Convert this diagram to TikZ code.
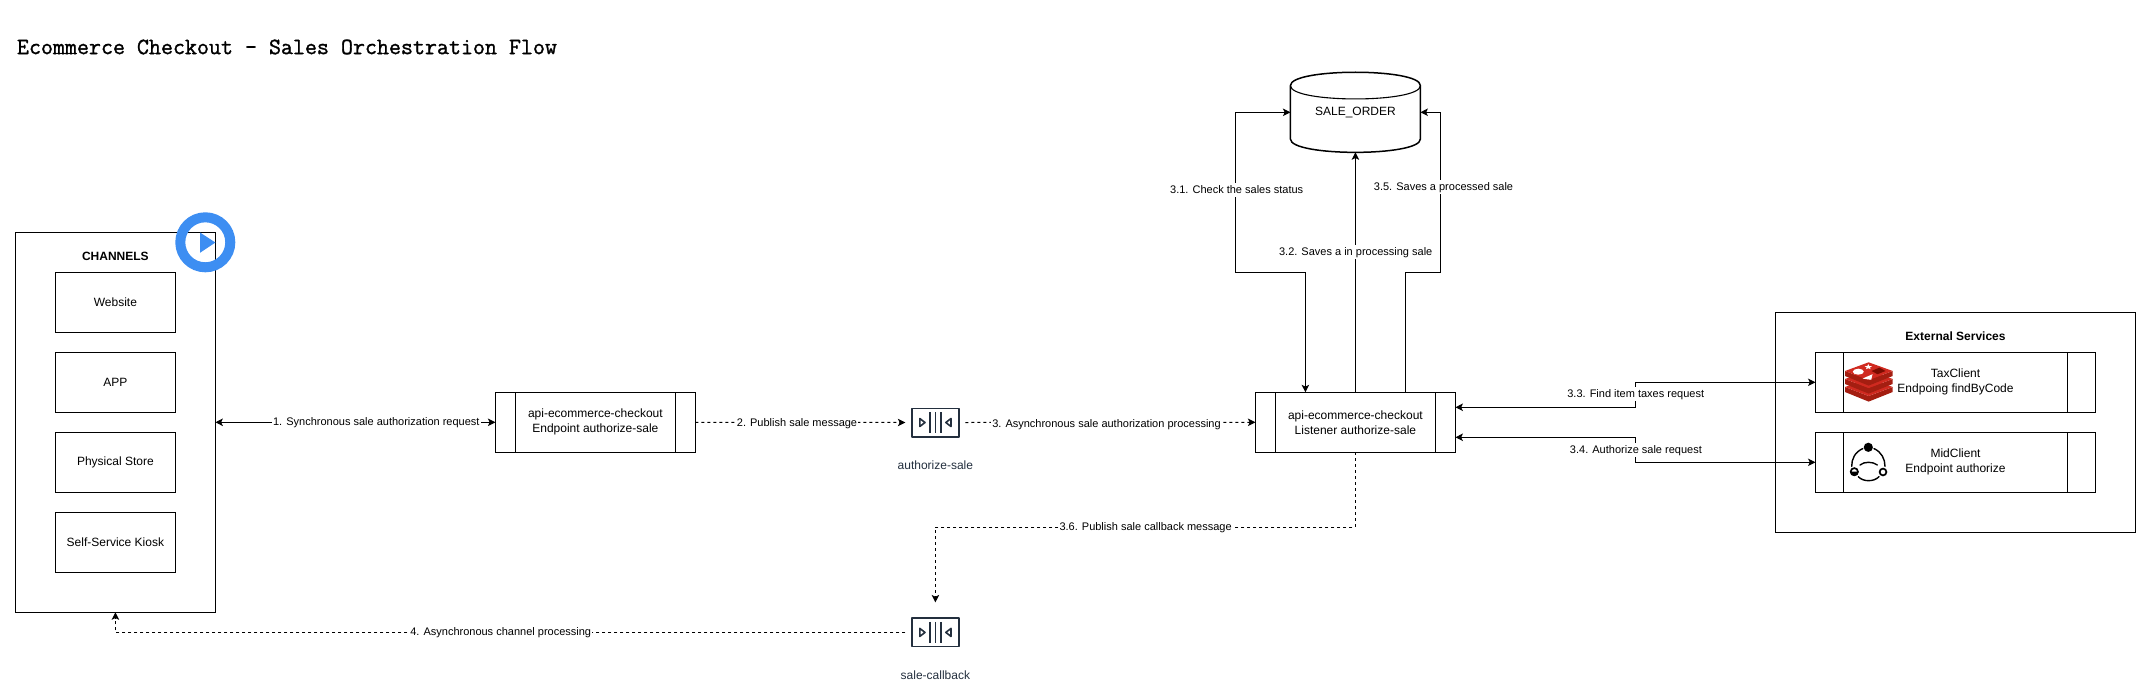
\documentclass[tikz,border=0pt]{standalone}
\usepackage{fontspec}
\setmainfont{Liberation Sans}
\newfontfamily\titlefont[FakeBold=1.3]{Latin Modern Mono}
\usetikzlibrary{arrows.meta}
\definecolor{awsdark}{HTML}{232F3E}
\definecolor{playblue}{HTML}{3D8EF2}
\definecolor{redisdark}{HTML}{A41E11}
\definecolor{redislight}{HTML}{D02A20}
\definecolor{redisshade}{HTML}{7A0C00}
\tikzset{
  every node/.style={inner sep=0pt,outer sep=0pt},
  box/.style={draw=black,line width=1pt,minimum width=#1,align=center,
    font=\fontsize{12}{15}\selectfont},
  box/.default=120pt,
  sizedbox/.style 2 args={box,minimum width=#1,minimum height=#2},
  oneline/.style={text height=10pt,text depth=1.5pt},
  heading/.style={font=\fontsize{12}{15}\selectfont\bfseries,oneline},
  plain/.style={font=\fontsize{12}{15}\selectfont,oneline},
  qlabel/.style={font=\fontsize{12}{15}\selectfont,text=awsdark,oneline},
  edgelabel/.style={font=\fontsize{11}{13}\selectfont,fill=white,inner sep=1pt,text height=9.5pt,text depth=2.5pt},
  conn/.style={line width=1pt,draw=black},
  tip/.style={-{Stealth[length=7.5pt,width=7.5pt,inset=1.8pt]}},
  bothtip/.style={{Stealth[length=7.5pt,width=7.5pt,inset=1.8pt]}-{Stealth[length=7.5pt,width=7.5pt,inset=1.8pt]}},
  async/.style={dash pattern=on 3pt off 3pt},
  queueslot/.style={minimum width=60pt,minimum height=60pt},
  queueicon/.pic={
    \draw[awsdark,line width=1.6pt,line join=round] (-23.7,-14.2) rectangle (23.7,14.2);
    \draw[awsdark,line width=1.4pt] (-5.4,-10.5) -- (-5.4,10.5) (0,-10.5) -- (0,10.5) (5.4,-10.5) -- (5.4,10.5);
    \draw[awsdark,line width=1.6pt,line join=round] (-15.6,-4) -- (-15.6,4) -- (-10.4,0) -- cycle;
    \draw[awsdark,line width=1.6pt,line join=round] (15.6,-4) -- (15.6,4) -- (10.4,0) -- cycle;
  }
}
\begin{document}
\begin{tikzpicture}[x=1pt,y=-1pt]
\useasboundingbox (0,0) rectangle (2151,698);

% title
\node[anchor=west,font=\fontsize{23.3}{24}\titlefont] (title) at (17,47)
  {Ecommerce Checkout - Sales Orchestration Flow};

% channels
\node[sizedbox={200pt}{380pt}] (channels) at (115.4,422.3) {};
\node[heading] (channelstitle) at (115.4,256.7) {CHANNELS};
\node[sizedbox={120pt}{60pt}] (website) at (115.4,302.3) {Website};
\node[sizedbox={120pt}{60pt}] (app) at (115.4,382.3) {APP};
\node[sizedbox={120pt}{60pt}] (store) at (115.4,462.3) {Physical Store};
\node[sizedbox={120pt}{60pt}] (kiosk) at (115.4,542.3) {Self-Service Kiosk};

% play badge
\coordinate (playc) at (205.3,242.3);
\draw[playblue,line width=10pt] (playc) circle (25pt);
\fill[playblue] (200,232.5) -- (215.4,242.5) -- (200,252.8) -- cycle;

% services
\node[sizedbox={200pt}{60pt}] (api1) at (595.4,422.3) {api-ecommerce-checkout\\Endpoint authorize-sale};
\draw[line width=1pt] ([xshift=20pt]api1.north west) -- ([xshift=20pt]api1.south west)
  ([xshift=-20pt]api1.north east) -- ([xshift=-20pt]api1.south east);
\node[sizedbox={200pt}{60pt}] (api2) at (1355.4,422.3) {api-ecommerce-checkout\\Listener authorize-sale};
\draw[line width=1pt] ([xshift=20pt]api2.north west) -- ([xshift=20pt]api2.south west)
  ([xshift=-20pt]api2.north east) -- ([xshift=-20pt]api2.south east);

% queues
\node[queueslot] (q1) at (935.4,422.5) {};
\pic at (q1.center) {queueicon};
\node[qlabel] (q1label) at (935.4,465.7) {authorize-sale};
\node[queueslot] (q2) at (935.4,632.4) {};
\pic at (q2.center) {queueicon};
\node[qlabel] (q2label) at (935.4,675.7) {sale-callback};

% database
\node[minimum width=130pt,minimum height=80pt] (db) at (1355.4,112.3) {};
\draw[line width=1.5pt,line join=round]
  (1290.4,85.6) .. controls (1290.4,67.8) and (1420.4,67.8) .. (1420.4,85.6)
  -- (1420.4,139) .. controls (1420.4,156.8) and (1290.4,156.8) .. (1290.4,139) -- cycle;
\draw[line width=1.1pt] (1290.4,85.6) .. controls (1290.4,103.4) and (1420.4,103.4) .. (1420.4,85.6);
\node[plain] (dblabel) at (1355.4,111.7) {SALE\_ORDER};

% external services
\node[sizedbox={360pt}{220pt}] (external) at (1955.5,422.3) {};
\node[heading] (externaltitle) at (1955.5,336.7) {External Services};
\node[sizedbox={280pt}{60pt}] (tax) at (1955.5,382.3) {TaxClient\\Endpoing findByCode};
\draw[line width=1pt] ([xshift=28pt]tax.north west) -- ([xshift=28pt]tax.south west)
  ([xshift=-28pt]tax.north east) -- ([xshift=-28pt]tax.south east);
\node[sizedbox={280pt}{60pt}] (mid) at (1955.5,462.3) {MidClient\\Endpoint authorize};
\draw[line width=1pt] ([xshift=28pt]mid.north west) -- ([xshift=28pt]mid.south west)
  ([xshift=-28pt]mid.north east) -- ([xshift=-28pt]mid.south east);

% redis icon
\foreach \d in {16,8,0}{
  \fill[redisdark] (1845,371+\d) -- (1868.6,380+\d) -- (1892.7,371+\d) -- (1892.7,376+\d) -- (1868.6,385.6+\d) -- (1845,376+\d) -- cycle;
  \fill[redislight] (1845,371+\d) -- (1868.6,362.3+\d) -- (1892.7,371+\d) -- (1868.6,380+\d) -- cycle;
}
\fill[white] (1858.3,371.7) ellipse (5.5pt and 3pt);
\fill[white,shift={(1868.3,366.9)}] (0,-2.8) -- (1,-.9) -- (3.8,-.9) -- (1.5,.7) -- (2.4,2.3) -- (0,1.3) -- (-2.4,2.3) -- (-1.5,.7) -- (-3.8,-.9) -- (-1,-.9) -- cycle;
\fill[white] (1862.5,378.6) -- (1872.5,374.2) -- (1871.2,379.8) -- cycle;
\fill[redisshade] (1871.5,371) -- (1879.5,367.6) -- (1885.5,371) -- (1877.5,374.2) -- cycle;

% mid icon
\fill[black] (1868.3,447.3) circle (4.6pt);
\draw[line width=1.7pt,black] (1854.3,471.7) circle (3.6pt);
\fill[black] (1850,471.7) -- (1858.6,471.7) arc[start angle=0,end angle=-180,radius=4.3pt] -- cycle;
\draw[line width=1.7pt,black,fill=white] (1883,472) circle (3.4pt);
\draw[line width=1.4pt,line cap=round]
  (1862.7,448.6) .. controls (1855,452) and (1851.5,459) .. (1851.7,466.4)
  (1874,448.6) .. controls (1881.5,452) and (1885,459) .. (1885,466.4)
  (1860,465) .. controls (1864,461.4) and (1873,461.4) .. (1877.3,465)
  (1858.3,476.7) .. controls (1863,482) and (1874,482) .. (1879,476.7);

% connectors
\draw[conn,bothtip] (channels.east |- api1.west) -- (api1.west);
\draw[conn,async,tip] (api1.east) -- (q1.west);
\draw[conn,async,tip] (q1.east) -- (api2.west);
\draw[conn,bothtip] ([xshift=-50pt]api2.north) -- ++(0,-120) -| (1235.3,112.3) -- (db.west);
\draw[conn,tip] (api2.north) -- (db.south);
\draw[conn,tip] ([xshift=50pt]api2.north) -- ++(0,-120) -| (1440.3,112.3) -- (db.east);
\draw[conn,bothtip] ([yshift=15pt]api2.east) -- (1635.5,407.3) |- (tax.west);
\draw[conn,bothtip] ([yshift=-15pt]api2.east) -- (1635.5,437.3) |- (mid.west);
\draw[conn,async,tip] (api2.south) |- (935.4,527.3) -- (q2.north);
\draw[conn,async,tip] (q2.west) -| (channels.south);

% connector labels
\node[edgelabel] (l1) at (376.3,422.3) {1. Synchronous sale authorization request};
\node[edgelabel] (l2) at (797,423) {2. Publish sale message};
\node[edgelabel] (l3) at (1106.5,424) {3. Asynchronous sale authorization processing};
\node[edgelabel] (l31) at (1236.7,190) {3.1. Check the sales status};
\node[edgelabel] (l32) at (1355.7,252.3) {3.2. Saves a in processing sale};
\node[edgelabel] (l33) at (1635.7,394.3) {3.3. Find item taxes request};
\node[edgelabel] (l34) at (1635.9,450.3) {3.4. Authorize sale request};
\node[edgelabel] (l35) at (1443.5,187.3) {3.5. Saves a processed sale};
\node[edgelabel] (l36) at (1145.6,527.3) {3.6. Publish sale callback message};
\node[edgelabel] (l4) at (500.7,632.3) {4. Asynchronous channel processing};
\end{tikzpicture}
\end{document}
